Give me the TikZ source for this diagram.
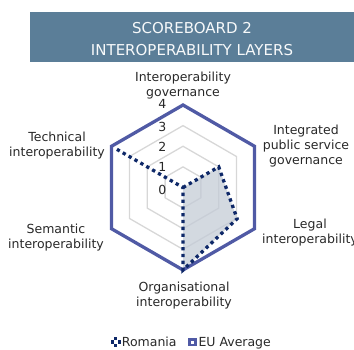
\documentclass[tikz,border=0pt]{standalone}
\usepackage{fontspec}
\setmainfont{DejaVu Sans}
\usetikzlibrary{calc}
\definecolor{banner}{RGB}{91,126,152}
\definecolor{eublue}{RGB}{80,90,165}
\definecolor{navy}{RGB}{14,40,104}
\definecolor{ringgray}{RGB}{215,215,215}
\definecolor{fillgray}{RGB}{196,204,214}
\definecolor{txt}{RGB}{40,40,40}
\begin{document}
\begin{tikzpicture}[x=1pt,y=1pt,
  lbl/.style={font=\fontsize{12.5}{15}\selectfont, text=txt, align=center, inner sep=0pt, anchor=north},
  ttl/.style={font=\fontsize{15}{18}\selectfont, text=white!95!banner, inner sep=0pt, anchor=base},
  tick/.style={font=\fontsize{12.5}{15}\selectfont, text=txt, inner sep=0pt, anchor=base east},
  leg/.style={font=\fontsize{12.5}{15}\selectfont, text=txt, inner sep=0pt, anchor=base west},
  ring/.style={draw=ringgray, line width=1.3pt},
  euline/.style={draw=eublue, line width=3.3pt, line join=miter},
  roline/.style={draw=navy, line width=3.3pt, dash pattern=on 3.3pt off 3.5pt},
  rofill/.style={fill=fillgray, fill opacity=0.75}
]
\useasboundingbox (0,0) rectangle (354,349);
% title banner
\fill[banner] (30,286.5) rectangle (354,336.5);
\node[ttl] (t1) at (192,315.7) {SCOREBOARD 2};
\node[ttl] (t2) at (192,294) {INTEROPERABILITY LAYERS};

\coordinate (O) at (183,161.5);
\begin{scope}[shift={(O)}]
  % grid rings
  \foreach \r in {20.625,41.25,61.875}{
    \draw[ring] (90:\r) -- (30:\r) -- (-30:\r) -- (-90:\r) -- (210:\r) -- (150:\r) -- cycle;
  }
  % Romania points
  \coordinate (r1) at (90:0);
  \coordinate (r2) at (30:41.25);
  \coordinate (r3) at (-30:62.5);
  \coordinate (r4) at (-90:82.5);
  \coordinate (r5) at (210:0);
  \coordinate (r6) at (150:76.3);
  % EU points
  \coordinate (e1) at (90:82.5);
  \coordinate (e2) at (30:82.5);
  \coordinate (e3) at (-30:82.5);
  \coordinate (e4) at (-90:82.5);
  \coordinate (e5) at (210:82.5);
  \coordinate (e6) at (150:82.5);
  \fill[rofill] (r1) -- (r2) -- (r3) -- (r4) -- (r5) -- (r6) -- cycle;
  \draw[euline] (e1) -- (e2) -- (e3) -- (e4) -- (e5) -- (e6) -- cycle;
  \draw[roline] (r1) -- (r2) -- (r3) -- (r4) -- (r5) -- (r6);
\end{scope}

% axis values
\node[tick] (v4) at (166.5,240.9) {4};
\node[tick] (v3) at (166.5,217.9) {3};
\node[tick] (v2) at (166.5,197.9) {2};
\node[tick] (v1) at (166.5,177.9) {1};
\node[tick] (v0) at (166.5,154.9) {0};

% category labels
\node[lbl] (lgov) at (183,276.8) {Interoperability\\governance};
\node[lbl] (lips) at (306,224.2) {Integrated\\public service\\governance};
\node[lbl] (lleg) at (310,130.2) {Legal\\interoperability};
\node[lbl] (lorg) at (184,66.8) {Organisational\\interoperability};
\node[lbl] (lsem) at (56,125.2) {Semantic\\interoperability};
\node[lbl] (ltec) at (57,216.8) {Technical\\interoperability};

% legend
\begin{scope}[shift={(115.8,7)}]
  \fill[navy] (-4.9,-1.6) rectangle (-1.7,1.6);
  \fill[navy] (1.7,-1.6) rectangle (4.9,1.6);
  \fill[navy] (-1.6,1.7) rectangle (1.6,4.9);
  \fill[navy] (-1.6,-4.9) rectangle (1.6,-1.7);
\end{scope}
\node[leg] (lro) at (121.7,2.3) {Romania};
\fill[eublue] (188.2,2.7) rectangle (196.8,11.3);
\fill[white] (191,5.5) rectangle (194,8.5);
\node[leg] (leu) at (198.3,2.3) {EU Average};
\end{tikzpicture}
\end{document}
